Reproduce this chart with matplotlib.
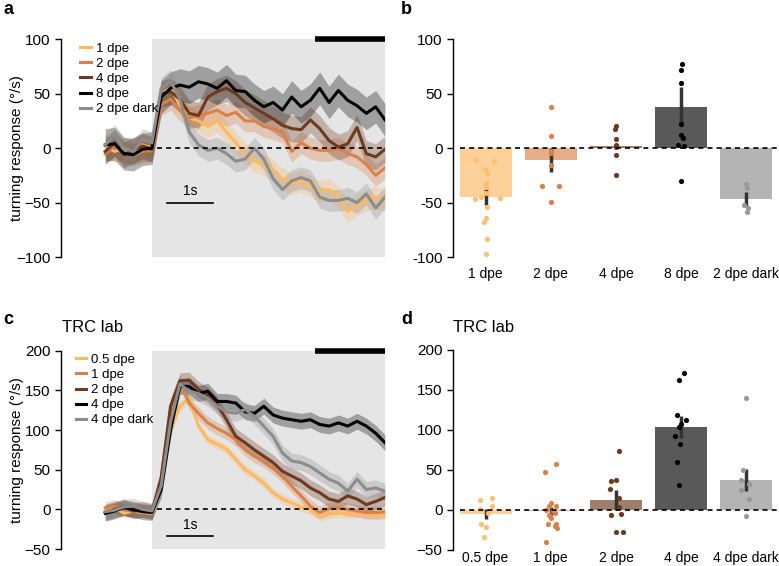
import numpy as np
import matplotlib
matplotlib.use('Agg')
import matplotlib.pyplot as plt

plt.rcParams['font.family'] = ['Liberation Sans', 'DejaVu Sans']
plt.rcParams['axes.linewidth'] = 1.0

# time axis (s), stimulus starts at 0
t = [-1.0, -0.8, -0.6, -0.4, -0.2, 0.0, 0.2, 0.4, 0.6, 0.8, 1.0, 1.2, 1.4, 1.6, 1.8,
     2.0, 2.2, 2.4, 2.6, 2.8, 3.0, 3.2, 3.4, 3.6, 3.8, 4.0, 4.2, 4.4, 4.6, 4.8, 5.0]

# panel a traces
a_labels = ['1 dpe', '2 dpe', '4 dpe', '8 dpe', '2 dpe dark']
a_1dpe = [2, -3, 0, -5, 3, 0, 50, 55, 40, 28, 25, 20, 25, 15, 5, -5, -12, -15, -20, -28,
          -33, -30, -35, -40, -38, -45, -58, -52, -48, -45, -48]
a_2dpe = [-5, 2, -4, -6, -3, -2, 40, 45, 35, 28, 30, 32, 35, 30, 33, 25, 25, 20, 18, 15,
          -3, 5, 0, -2, -2, 0, -5, -8, -15, -25, -18]
a_4dpe = [-3, 5, -6, -2, 2, -1, 50, 52, 45, 32, 30, 47, 52, 55, 50, 42, 37, 32, 27, 21,
          18, 17, 26, 18, 7, 1, 4, 19, -5, -8, -1]
a_8dpe = [3, 4, -5, -6, -1, 0, 47, 55, 58, 56, 61, 59, 55, 62, 53, 52, 44, 38, 42, 35,
          47, 38, 44, 55, 42, 53, 44, 39, 32, 38, 26]
a_dark = [3, 12, 0, -3, 8, 5, 55, 62, 45, 15, 3, -2, 0, -5, -12, -10, 0, -10, -28, -38,
          -30, -27, -30, -45, -48, -48, -46, -50, -42, -55, -45]
a_sem = [10, 10, 12, 15, 10]

# panel c traces
c_labels = ['0.5 dpe', '1 dpe', '2 dpe', '4 dpe', '4 dpe dark']
c_05dpe = [-3, 2, -5, -2, -4, -5, 30, 100, 130, 140, 105, 88, 82, 76, 63, 50, 42, 33, 21, 13,
           8, 3, 0, -9, -6, -4, -6, -4, -6, -7, -7]
c_1dpe = [2, 4, 0, -3, -2, -3, 40, 125, 160, 134, 121, 109, 102, 96, 88, 75, 67, 61, 52, 42,
          29, 17, 4, -4, 1, 2, 0, -2, -4, -4, -3]
c_2dpe = [-4, 0, 3, -2, 0, -3, 40, 130, 162, 163, 151, 144, 132, 113, 92, 84, 75, 67, 59, 48,
          42, 36, 27, 21, 13, 10, 17, 13, 6, 10, 15]
c_4dpe = [-5, -2, 2, 0, -3, -4, 25, 100, 155, 155, 146, 149, 136, 136, 134, 123, 121, 130, 119,
          115, 113, 111, 113, 107, 105, 109, 105, 111, 105, 96, 84]
c_dark = [-3, -1, 3, 4, 0, -2, 30, 110, 158, 149, 146, 140, 130, 123, 121, 126, 117, 105, 92,
          71, 61, 59, 54, 46, 38, 33, 23, 38, 25, 27, 23]
c_sem = [6, 8, 10, 10, 10]

# panel b bars + single fish
b_means = [-45, -11, 2, 38, -47]
b_sem = [7.5, 11, 2, 18, 6.5]
b_pts = [[-11, -12, -19, -23, -32, -36, -41, -47, -45, -46, -54, -64, -68, -83, -97],
         [38, 11, -3, -4, -15, -35, -35, -49],
         [20, 18, 8, 3, 1, -6, -25],
         [77, 72, 60, 22, 12, 9, 3, 2, -30],
         [-33, -37, -52, -55, -59]]
b_jit = [[-0.15, 0.13, -0.01, 0.02, 0, 0, 0, -0.17, -0.07, 0.22, 0.02, 0.01, -0.02, 0.02, 0],
         [0, 0, 0, 0, 0, -0.13, 0.12, 0],
         [0, -0.01, 0, 0, 0, 0, 0],
         [0.01, -0.01, 0, 0, -0.01, 0.02, -0.05, 0.05, 0],
         [-0.01, 0.01, -0.04, 0.03, 0.01]]

# panel d bars + single fish
d_means = [-5, -1, 12.5, 104, 37.5]
d_sem = [6, 5, 12, 14, 14]
d_pts = [[12.5, 14.6, 1.7, 5.4, -4, -18, -21, -34],
         [47, 57, 9, 5, 5, 0, -1, -6, -4, -10, -18, -17, -22, -20, -40],
         [74, 37.5, 36, 26, 15, 4, -6, -5, -27, -27.5],
         [171, 163, 119, 113, 107, 104, 93, 82, 60, 31],
         [140, 50, 38, 32, 25, 14, -8]]
d_jit = [[-0.08, 0.10, -0.09, 0.10, 0.04, -0.07, 0, -0.02],
         [-0.09, 0.08, 0, -0.02, 0.08, -0.07, 0.03, -0.02, 0.06, 0, -0.05, 0.08, 0.1, 0.06, -0.07],
         [0.04, 0, -0.07, -0.09, 0.04, 0.04, -0.07, 0.07, 0, 0.1],
         [0.04, -0.04, -0.06, 0.08, 0, -0.03, -0.09, -0.02, -0.07, -0.03],
         [0, -0.05, -0.09, 0.04, -0.09, 0.04, 0]]

colors = ['#fdb863', '#d9814a', '#6b3a1f', '#000000', '#8c8c8c']
pt_colors = ['#fdbf6f', '#d9814a', '#6b3a1f', '#000000', '#999999']

fig = plt.figure(figsize=(7.79, 5.66), dpi=100)


def clean(ax):
    for s in ['top', 'right', 'bottom']:
        ax.spines[s].set_visible(False)
    ax.tick_params(axis='y', direction='out', length=4, width=1, labelsize=11)


def trace_panel(ax, series, sems, labels, ylim, yticks, bar_y, leg_x):
    ax.axvspan(0, 5, color='#e5e5e5', lw=0, zorder=0)
    tt = np.array(t)
    for y, s, c in zip(series, sems, colors):
        y = np.array(y, dtype=float)
        ax.fill_between(tt, y - s, y + s, color=c, alpha=0.3, lw=0, zorder=1)
    lines = []
    for y, c, lab in zip(series, colors, labels):
        l, = ax.plot(tt, y, color=c, lw=2.2, label=lab, zorder=2)
        lines.append(l)
    ax.plot([0.1, 5], [0, 0], color='k', lw=1.2, dashes=(3, 2.5), zorder=3)
    # stimulus bar
    ax.plot([3.5, 5], [ylim[1], ylim[1]], color='k', lw=4, clip_on=False,
            solid_capstyle='butt', zorder=4)
    # 1 s scale bar
    ax.plot([0.32, 1.32], [bar_y, bar_y], color='k', lw=1.2, zorder=3)
    ax.text(0.82, bar_y + (ylim[1] - ylim[0]) * 0.02, '1s', ha='center', va='bottom', fontsize=10)
    ax.set_xlim(-1.95, 5)
    ax.set_ylim(*ylim)
    ax.set_yticks(yticks)
    ax.set_xticks([])
    clean(ax)
    ax.set_ylabel('turning response (°/s)', fontsize=11)
    ax.yaxis.set_label_coords(-0.115, 0.5)
    ax.legend(handles=lines, loc='upper left', bbox_to_anchor=(leg_x, 0.985), frameon=False,
              handlelength=0.8, handletextpad=0.35, labelspacing=0.22, borderpad=0,
              borderaxespad=0, fontsize=9.5)


def bar_panel(ax, means, sems, pts, jit, labels, ylim, yticks, pad):
    x = np.arange(len(means))
    ax.bar(x, means, width=0.8, color=colors, alpha=0.65, lw=0, zorder=1)
    m = np.array(means, dtype=float)
    s = np.array(sems, dtype=float)
    ax.vlines(x, m - s, m + s, color='#333333', lw=2.5, zorder=2)
    for i in range(len(means)):
        ax.scatter(i + np.array(jit[i]), pts[i], s=14, color=pt_colors[i], lw=0, zorder=3)
    ax.plot([-0.4, 4.5], [0, 0], color='k', lw=1.2, dashes=(3, 2.5), zorder=4, clip_on=False)
    ax.set_xlim(-0.5, 4.5)
    ax.set_ylim(*ylim)
    ax.set_yticks(yticks)
    ax.set_xticks(x)
    ax.set_xticklabels(labels, fontsize=10)
    ax.tick_params(axis='x', length=0, pad=pad)
    clean(ax)


ax_a = fig.add_axes([0.0783, 0.5459, 0.4159, 0.3846])
trace_panel(ax_a, [a_1dpe, a_2dpe, a_4dpe, a_8dpe, a_dark], a_sem, a_labels,
            (-100, 100), [-100, -50, 0, 50, 100], -50, 0.06)

ax_b = fig.add_axes([0.5815, 0.5459, 0.4185, 0.3846])
bar_panel(ax_b, b_means, b_sem, b_pts, b_jit, a_labels, (-100, 100),
          [-100, -50, 0, 50, 100], 7)
ax_b.set_yticklabels(['-100', '-50', '0', '50', '100'])

ax_c = fig.add_axes([0.0783, 0.0300, 0.4159, 0.3504])
trace_panel(ax_c, [c_05dpe, c_1dpe, c_2dpe, c_4dpe, c_dark], c_sem, c_labels,
            (-50, 200), [-50, 0, 50, 100, 150, 200], -34, 0.045)

ax_d = fig.add_axes([0.5815, 0.0283, 0.4185, 0.3534])
bar_panel(ax_d, d_means, d_sem, d_pts, d_jit, c_labels, (-50, 200),
          [-50, 0, 50, 100, 150, 200], 1)

fig.text(62 / 779, 1 - 327 / 566, 'TRC lab', fontsize=12, va='center')
fig.text(453 / 779, 1 - 327 / 566, 'TRC lab', fontsize=12, va='center')

for lab, xp, yp in [('a', 3, 10), ('b', 401, 10), ('c', 3, 320), ('d', 401, 320)]:
    fig.text(xp / 779, 1 - yp / 566, lab, fontsize=13, fontweight='bold', va='center')

fig.savefig('out.png', dpi=100)
